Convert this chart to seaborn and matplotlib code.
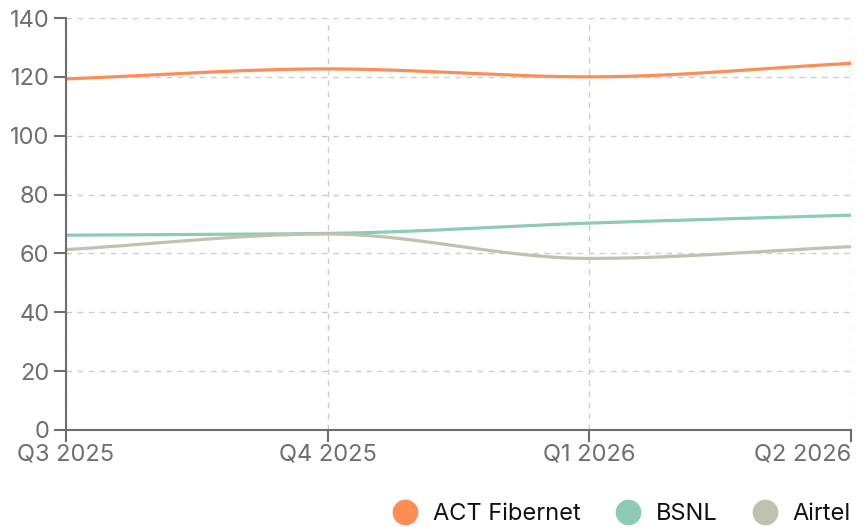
import numpy as np
import pandas as pd
import matplotlib
matplotlib.use("Agg")
import matplotlib.pyplot as plt
from matplotlib.lines import Line2D
import seaborn as sns

categories = ["Q3 2025", "Q4 2025", "Q1 2026", "Q2 2026"]
act = [119.3, 122.7, 120.0, 124.6]
bsnl = [66.2, 66.8, 70.3, 73.0]
airtel = [61.3, 66.6, 58.3, 62.3]
series_names = ["ACT Fibernet", "BSNL", "Airtel"]
colors = ["#fc8e55", "#8ecbb7", "#c0c2b0"]

sns.set_theme(style="white")
plt.rcParams['font.family'] = ['Inter', 'DejaVu Sans']


def pchip(x, y, xs):
    x = np.asarray(x, float); y = np.asarray(y, float)
    h = np.diff(x); d = np.diff(y) / h
    n = len(x); m = np.zeros(n)
    for k in range(1, n - 1):
        if d[k - 1] * d[k] <= 0:
            m[k] = 0
        else:
            w1 = 2 * h[k] + h[k - 1]; w2 = h[k] + 2 * h[k - 1]
            m[k] = (w1 + w2) / (w1 / d[k - 1] + w2 / d[k])
    m[0] = d[0]; m[-1] = d[-1]
    out = np.empty_like(xs)
    for i, xv in enumerate(xs):
        k = min(np.searchsorted(x, xv, side='right') - 1, n - 2)
        t = (xv - x[k]) / h[k]
        h00 = 2*t**3 - 3*t**2 + 1; h10 = t**3 - 2*t**2 + t
        h01 = -2*t**3 + 3*t**2; h11 = t**3 - t**2
        out[i] = h00*y[k] + h10*h[k]*m[k] + h01*y[k+1] + h11*h[k]*m[k+1]
    return out


fig = plt.figure(figsize=(8.68, 5.27), dpi=100)
ax = fig.add_axes([66/868, 1-430/527, (851-66)/868, (430-18)/527])

x = np.arange(len(categories))
xs = np.linspace(0, len(categories) - 1, 300)
frames = []
for name, vals in zip(series_names, [act, bsnl, airtel]):
    frames.append(pd.DataFrame({"x": xs, "y": pchip(x, vals, xs), "series": name}))
df = pd.concat(frames)
sns.lineplot(data=df, x="x", y="y", hue="series", palette=colors, linewidth=2.3,
             ax=ax, legend=False, sort=False)

ax.set_xlim(0, len(categories) - 1)
ax.set_ylim(0, 140)
ax.set_xticks(x)
ax.set_xticklabels(categories)
ax.set_yticks(np.arange(0, 141, 20))
ax.set_xlabel(""); ax.set_ylabel("")
ax.grid(True, color="#cccccc", linestyle=(0, (4, 4)), linewidth=1)
for s in ["top", "right"]:
    ax.spines[s].set_visible(False)
for s in ["left", "bottom"]:
    ax.spines[s].set_color("#6e6e6e")
    ax.spines[s].set_linewidth(1.5)
ax.tick_params(axis="both", colors="#6e6e6e", labelcolor="#6e6e6e", labelsize=17,
               length=8.5, width=1.5, direction="out", left=True, bottom=True)
ax.tick_params(axis="y", pad=3.5)
ax.tick_params(axis="x", pad=1.5)
labels = ax.get_xticklabels()
labels[-1].set_ha("right")
ax.set_axisbelow(True)

handles = [Line2D([0], [0], marker="o", linestyle="", markersize=17.5,
                  markerfacecolor=c, markeredgecolor=c) for c in colors]
fig.legend(handles, series_names, loc="lower right", bbox_to_anchor=(851/868, 2/527),
           borderaxespad=0, borderpad=0, ncol=3, frameon=False, fontsize=17,
           handlelength=1.0, handletextpad=0.7, columnspacing=1.48,
           labelcolor="#111111")

fig.savefig("out.png", dpi=100)
